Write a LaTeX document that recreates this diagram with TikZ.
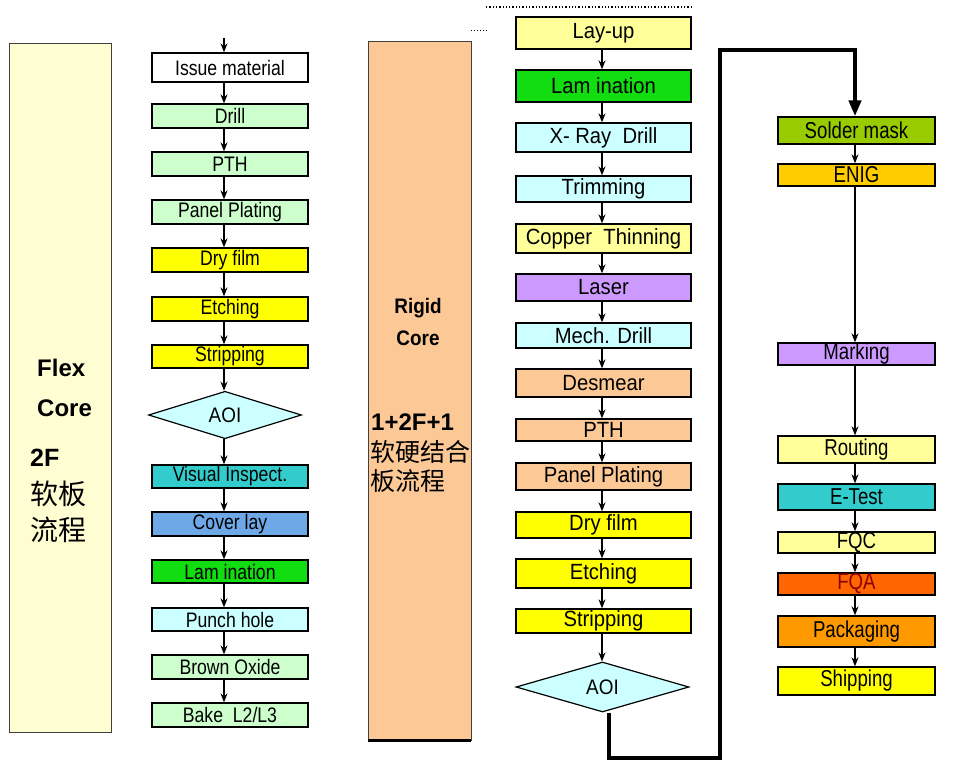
\documentclass[tikz,border=0pt]{standalone}
\usepackage{fontspec}
\setmainfont{Liberation Sans}
\newfontfamily\cjk{Noto Sans CJK SC}
\newfontfamily\narrowf[FakeStretch=0.84]{Liberation Sans}
\newfontfamily\narrowm[FakeStretch=0.92]{Liberation Sans}
\newfontfamily\narrowr[FakeStretch=0.81]{Liberation Sans}
\newfontfamily\narrowb[FakeStretch=0.9]{Liberation Sans}
\usetikzlibrary{shapes.geometric,arrows.meta,calc}
\definecolor{cream}{HTML}{FFFDD2}
\definecolor{peach}{HTML}{FBC896}
\definecolor{lgreen}{HTML}{CCFFCC}
\definecolor{yel}{HTML}{FFFF00}
\definecolor{lyel}{HTML}{FFFF99}
\definecolor{teal2}{HTML}{33CCCC}
\definecolor{cov}{HTML}{6FA8E6}
\definecolor{bgreen}{HTML}{11DD11}
\definecolor{lcyan}{HTML}{CCFFFF}
\definecolor{purp}{HTML}{CC99FF}
\definecolor{smask}{HTML}{99CC00}
\definecolor{enig}{HTML}{FFCC00}
\definecolor{fqa}{HTML}{FF6600}
\definecolor{pack}{HTML}{FF9900}
\definecolor{darkred}{HTML}{8B0000}
\tikzset{
  boxbase/.style={draw=black, line width=1.3pt, inner sep=0pt},
  lbox/.style={boxbase, minimum width=156pt, font=\narrowf\fontsize{21}{22}\selectfont},
  mbox/.style={boxbase, minimum width=175pt, font=\narrowm\fontsize{22}{23}\selectfont},
  rbox/.style={boxbase, minimum width=157pt, font=\narrowr\fontsize{23}{24}\selectfont},
  dia/.style={diamond, draw=black, line width=1.2pt, fill=lcyan, inner sep=0pt, font=\narrowb\fontsize{21}{21}\selectfont},
  arr/.style={line width=1.3pt, -{Stealth[length=9pt,width=7pt]}},
  bigline/.style={line width=4pt, -{Triangle[length=16pt,width=12pt]}},
}
\begin{document}
\begin{tikzpicture}[x=1pt,y=-1pt]
\useasboundingbox (0,0) rectangle (962,771);
% tall side panels
\node[draw=black!75, line width=0.9pt, fill=cream, minimum width=102pt, minimum height=689pt, inner sep=0pt] (flexbox) at (60,387.5) {};
\node[draw=black!75, line width=0.9pt, fill=peach, minimum width=103pt, minimum height=699pt, inner sep=0pt] (rigidbox) at (419.5,390.5) {};
\draw[line width=2.5pt] (rigidbox.south west) -- (rigidbox.south east);
% side labels
\node[anchor=west, font=\bfseries\fontsize{24}{24}\selectfont, inner sep=0pt] (flex) at (37,368) {Flex};
\node[anchor=west, font=\bfseries\fontsize{24}{24}\selectfont, inner sep=0pt] (core) at (37,408) {Core};
\node[anchor=west, font=\bfseries\fontsize{25}{25}\selectfont, inner sep=0pt] (twof) at (30,458) {2F};
\node[anchor=west, font=\cjk\fontsize{28}{28}\selectfont, inner sep=0pt] (cjka) at (30,494) {软板};
\node[anchor=west, font=\cjk\fontsize{28}{28}\selectfont, inner sep=0pt] (cjkb) at (30,530) {流程};
\node[font=\narrowb\bfseries\fontsize{21}{21}\selectfont, inner sep=0pt] (rigid) at (418,308) {Rigid};
\node[font=\narrowb\bfseries\fontsize{21}{21}\selectfont, inner sep=0pt] (rcore) at (418,338) {Core};
\node[anchor=west, font=\bfseries\fontsize{24}{24}\selectfont, inner sep=0pt] (otwo) at (371,422) {1+2F+1};
\node[anchor=west, font=\cjk\fontsize{25}{25}\selectfont, inner sep=0pt] (rcjka) at (370,452) {软硬结合};
\node[anchor=west, font=\cjk\fontsize{25}{25}\selectfont, inner sep=0pt] (rcjkb) at (370,481) {板流程};
% dotted marks
\draw[dotted, line width=1.3pt] (486,7) -- (692,7);
\draw[dotted, line width=1pt] (471,30) -- (488,30);
% left column
\node[lbox, fill=white, minimum height=29pt] (l1) at (230,67.5) {Issue material};
\node[lbox, fill=lgreen, minimum height=24pt] (l2) at (230,116) {Drill};
\node[lbox, fill=lgreen, minimum height=24pt] (l3) at (230,164) {PTH};
\node[lbox, fill=lgreen, minimum height=24pt] (l4) at (230,212) {Panel Plating};
\node[lbox, fill=yel, minimum height=24pt] (l5) at (230,260) {Dry film};
\node[lbox, fill=yel, minimum height=24pt] (l6) at (230,309) {Etching};
\node[lbox, fill=yel, minimum height=23pt] (l7) at (230,356.5) {Stripping};
\node[dia, minimum width=153pt, minimum height=47pt] (l8) at (225,415) {AOI};
\node[lbox, fill=teal2, minimum height=23pt] (l9) at (230,476.5) {Visual Inspect.};
\node[lbox, fill=cov, minimum height=24pt] (l10) at (230,524) {Cover lay};
\node[lbox, fill=bgreen, minimum height=23pt] (l11) at (230,571.5) {Lam ination};
\node[lbox, fill=lcyan, minimum height=23pt] (l12) at (230,619.5) {Punch hole};
\node[lbox, fill=lgreen, minimum height=24pt] (l13) at (230,667) {Brown Oxide};
\node[lbox, fill=lgreen, minimum height=24pt] (l14) at (230,715) {Bake~ L2/L3};
\coordinate (ltop) at (224,38);
\draw[arr] (ltop) -- (ltop |- l1.north);
\foreach \a/\b in {l1/l2,l2/l3,l3/l4,l4/l5,l5/l6,l6/l7,l7/l8,l8/l9,l9/l10,l10/l11,l11/l12,l12/l13,l13/l14}
  \draw[arr] (ltop |- \a.south) -- (ltop |- \b.north);
% middle column
\node[mbox, fill=lyel, minimum height=32pt] (m1) at (603.5,33) {Lay-up};
\node[mbox, fill=bgreen, minimum height=32pt] (m2) at (603.5,86) {Lam ination};
\node[mbox, fill=lcyan, minimum height=29pt] (m3) at (603.5,137.5) {X- Ray~ Drill};
\node[mbox, fill=lcyan, minimum height=26pt] (m4) at (603.5,189) {Trimming};
\node[mbox, fill=lyel, minimum height=29pt] (m5) at (603.5,238.5) {Copper~ Thinning};
\node[mbox, fill=purp, minimum height=27pt] (m6) at (603.5,287.5) {Laser};
\node[mbox, fill=lcyan, minimum height=25pt] (m7) at (603.5,335.5) {Mech. Drill};
\node[mbox, fill=peach, minimum height=28pt] (m8) at (603.5,383) {Desmear};
\node[mbox, fill=peach, minimum height=22pt] (m9) at (603.5,430) {PTH};
\node[mbox, fill=peach, minimum height=27pt] (m10) at (603.5,476.5) {Panel Plating};
\node[mbox, fill=yel, minimum height=26pt] (m11) at (603.5,525) {Dry film};
\node[mbox, fill=yel, minimum height=29pt] (m12) at (603.5,573.5) {Etching};
\node[mbox, fill=yel, minimum height=24pt] (m13) at (603.5,621) {Stripping};
\node[dia, minimum width=173pt, minimum height=50pt] (m14) at (602.5,687) {AOI};
\coordinate (mx) at (602,0);
\foreach \a/\b in {m1/m2,m2/m3,m3/m4,m4/m5,m5/m6,m6/m7,m7/m8,m8/m9,m9/m10,m10/m11,m11/m12,m12/m13,m13/m14}
  \draw[arr] (mx |- \a.south) -- (mx |- \b.north);
% right column
\node[rbox, fill=smask, minimum height=27pt] (r1) at (856.5,130.5) {Solder mask};
\node[rbox, fill=enig, minimum height=22pt] (r2) at (856.5,175) {ENIG};
\node[rbox, fill=purp, minimum height=22pt] (r3) at (856.5,354) {Marking};
\node[rbox, fill=lyel, minimum height=27pt] (r4) at (856.5,449.5) {Routing};
\node[rbox, fill=teal2, minimum height=26pt] (r5) at (856.5,497) {E-Test};
\node[rbox, fill=lyel, minimum height=21pt] (r6) at (856.5,542.5) {FQC};
\node[rbox, fill=fqa, minimum height=22pt, text=darkred] (r7) at (856.5,584) {FQA};
\node[rbox, fill=pack, minimum height=31pt] (r8) at (856.5,631.5) {Packaging};
\node[rbox, fill=yel, minimum height=28pt] (r9) at (856.5,681) {Shipping};
\coordinate (rx) at (855,0);
\foreach \a/\b in {r1/r2,r2/r3,r3/r4,r4/r5,r5/r6,r6/r7,r7/r8,r8/r9}
  \draw[arr] (rx |- \a.south) -- (rx |- \b.north);
% loop connector from AOI to Solder mask
\coordinate (lp1) at (609,758);
\coordinate (lp2) at (720,758);
\coordinate (lp3) at (720,50);
\coordinate (lp4) at (855,50);
\draw[bigline, line join=miter] (lp1 |- m14.south) -- (lp1) -- (lp2) -- (lp3) -- (lp4) -- (lp4 |- r1.north);
\end{tikzpicture}
\end{document}
